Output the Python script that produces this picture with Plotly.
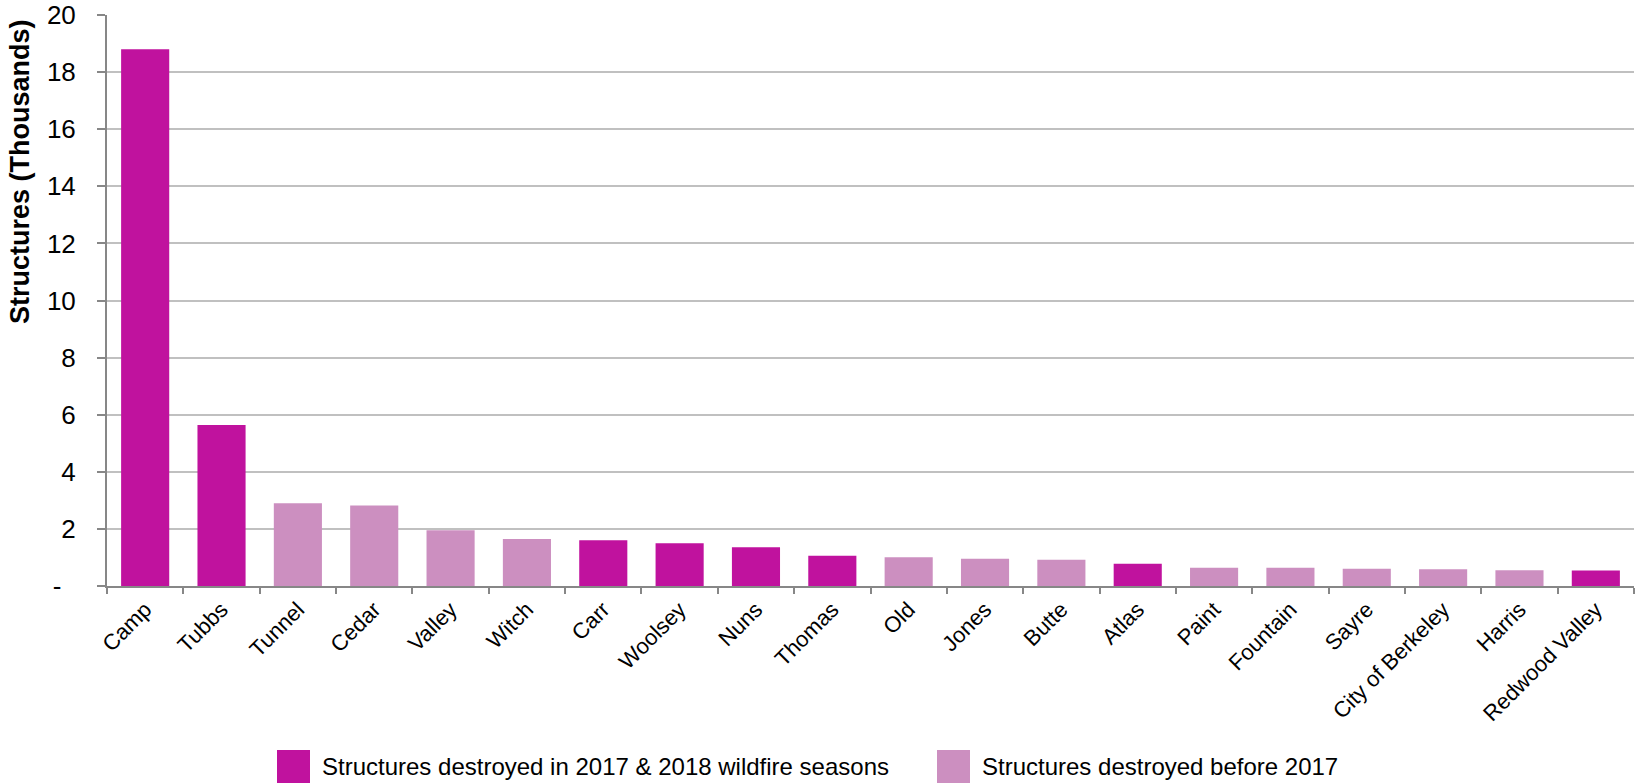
import plotly.graph_objects as go

# ---- data (thousands of structures destroyed) ----
categories = ["Camp", "Tubbs", "Tunnel", "Cedar", "Valley", "Witch", "Carr", "Woolsey",
              "Nuns", "Thomas", "Old", "Jones", "Butte", "Atlas", "Paint", "Fountain",
              "Sayre", "City of Berkeley", "Harris", "Redwood Valley"]
structures = [18.804, 5.636, 2.900, 2.820, 1.955, 1.650, 1.604, 1.500,
              1.355, 1.063, 1.003, 0.954, 0.921, 0.781, 0.641, 0.636,
              0.604, 0.584, 0.548, 0.546]
recent_flag = [True, True, False, False, False, False, True, True,
               True, True, False, False, False, True, False, False,
               False, False, False, True]
series_names = ["Structures destroyed in 2017 & 2018 wildfire seasons",
                "Structures destroyed before 2017"]
y_tickvals = [0, 2, 4, 6, 8, 10, 12, 14, 16, 18, 20]
y_ticktext = ["-\u2007", "2", "4", "6", "8", "10", "12", "14", "16", "18", "20"]
y_title = "Structures (Thousands)"

# ---- styling ----
W, H = 1635, 784
L, R, T, B = 107, 1, 15, 784 - 586
colors = ["#C0129E", "#CC8FC0"]
FONT = "Arial, 'Liberation Sans', sans-serif"

fig = go.Figure()
for k, (name, col) in enumerate(zip(series_names, colors)):
    want = (k == 0)
    xs = [c for c, f in zip(categories, recent_flag) if f == want]
    ys = [v for v, f in zip(structures, recent_flag) if f == want]
    fig.add_trace(go.Bar(x=xs, y=ys, name=name, marker=dict(color=col, line=dict(width=0)),
                         showlegend=False))

pw, ph = W - L - R, H - T - B
def px2paper(x, y):
    # page pixel -> paper coords
    return (x - L) / pw, (H - B - y) / ph

shapes, annotations = [], []
legend_items = [(277, 320), (937, 980)]
for (sx, tx), name, col in zip(legend_items, series_names, colors):
    x0, y0 = px2paper(sx, 783)
    x1, y1 = px2paper(sx + 33, 750)
    shapes.append(dict(type="rect", xref="paper", yref="paper", x0=x0, x1=x1, y0=y0, y1=y1,
                       fillcolor=col, line=dict(width=0), layer="above"))
    ax_, ay_ = px2paper(tx, 766)
    annotations.append(dict(text=name, xref="paper", yref="paper", x=ax_, y=ay_,
                            xanchor="left", yanchor="middle", showarrow=False,
                            font=dict(family=FONT, size=24, color="#000000")))
tx_, ty_ = px2paper(20, 172)
annotations.append(dict(text="<b>" + y_title + "</b>", xref="paper", yref="paper", x=tx_, y=ty_,
                        xanchor="center", yanchor="middle", textangle=-90, showarrow=False,
                        font=dict(family=FONT, size=27, color="#000000")))

fig.update_layout(
    width=W, height=H,
    margin=dict(l=L, r=R, t=T, b=B, pad=0, autoexpand=False),
    paper_bgcolor="white", plot_bgcolor="white",
    barmode="overlay", bargap=0.37,
    showlegend=False,
    font=dict(family=FONT, color="#000000"),
    shapes=shapes, annotations=annotations,
    xaxis=dict(type="category", categoryorder="array", categoryarray=categories,
               automargin=False,
               tickangle=-45, tickfont=dict(size=22, family=FONT, color="#000000"),
               showline=True, linecolor="#878787", linewidth=2,
               ticks="outside", tickson="boundaries", ticklen=6, tickcolor="#878787", tickwidth=2,
               showgrid=False, zeroline=False, range=[-0.5, len(categories) - 0.5]),
    yaxis=dict(range=[0, 20], tickvals=y_tickvals, ticktext=y_ticktext,
               automargin=False,
               tickfont=dict(size=26, family=FONT, color="#000000"),
               showline=True, linecolor="#878787", linewidth=2,
               ticks="outside", ticklen=8, tickcolor="#878787", tickwidth=2,
               ticklabelstandoff=16, ticklabeloverflow="allow",
               showgrid=True, gridcolor="#C0C0C0", gridwidth=1.5, zeroline=False),
)

fig.write_html("out.html", config={"displayModeBar": False},
               post_script="document.body.style.margin='0px';document.body.style.overflow='hidden';")
